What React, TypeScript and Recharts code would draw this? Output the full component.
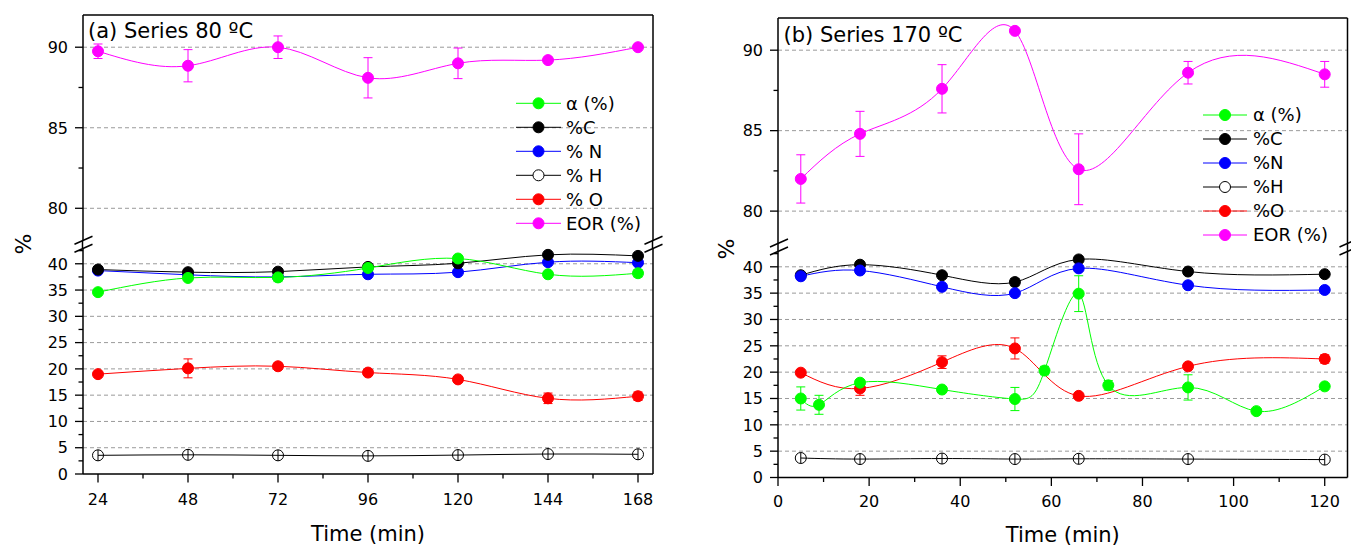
import React from 'react';
import { LineChart, Line, XAxis, YAxis, ErrorBar, ReferenceLine } from 'recharts';

const FONT = '"DejaVu Sans", Arial, sans-serif';

// ---- panel (a): Series 80 ºC ----
const timeA = [24, 48, 72, 96, 120, 144, 168];
const alphaA = [34.6, 37.3, 37.4, 39.2, 41.0, 38.0, 38.2];
const alphaErrA = [0, 0.4, 0.8, 0, 0, 0, 0.7];
const carbonA = [38.9, 38.4, 38.5, 39.4, 40.1, 41.7, 41.5];
const nitrogenA = [38.7, 37.9, 37.5, 38.0, 38.4, 40.3, 40.2];
const hydrogenA = [3.55, 3.65, 3.55, 3.45, 3.6, 3.8, 3.75];
const oxygenA = [19.0, 20.1, 20.5, 19.3, 18.0, 14.4, 14.8];
const oxygenErrA = [0, 1.8, 0.6, 0, 0, 1.0, 0.8];
const eorA = [89.75, 88.85, 90.0, 88.1, 89.0, 89.2, 90.0];
const eorErrA = [0.45, 1.0, 0.7, 1.25, 0.95, 0, 0];

// ---- panel (b): Series 170 ºC ----
const timeB = [5, 18, 36, 52, 66, 90, 120];
const alphaTimeB = [5, 9, 18, 36, 52, 58.5, 66, 72.5, 90, 105, 120];
const alphaB = [15.0, 13.8, 18.0, 16.7, 14.9, 20.3, 34.9, 17.5, 17.1, 12.6, 17.3];
const alphaErrB = [2.2, 1.8, 0.6, 0, 2.2, 0.8, 3.4, 0.9, 2.4, 0, 0];
const carbonB = [38.4, 40.4, 38.4, 37.1, 41.4, 39.1, 38.6];
const carbonErrB = [0, 0, 0, 0.7, 0, 0, 0];
const nitrogenB = [38.2, 39.3, 36.2, 35.0, 39.7, 36.5, 35.6];
const hydrogenB = [3.7, 3.5, 3.6, 3.5, 3.55, 3.5, 3.4];
const oxygenB = [19.9, 16.9, 21.9, 24.5, 15.5, 21.1, 22.5];
const oxygenErrB = [0, 1.3, 1.2, 2.0, 0, 0, 0.8];
const eorB = [82.0, 84.8, 87.6, 91.2, 82.6, 88.6, 88.5];
const eorErrB = [1.5, 1.4, 1.5, 0, 2.2, 0.7, 0.8];

// ---- axes ----
const xMajorA = [24, 48, 72, 96, 120, 144, 168];
const xMinorA = [36, 60, 84, 108, 132, 156];
const xMajorB = [0, 20, 40, 60, 80, 100, 120];
const xMinorB = [10, 30, 50, 70, 90, 110];
const yMajorLow = [0, 5, 10, 15, 20, 25, 30, 35, 40];
const yMinorLow = [2.5, 7.5, 12.5, 17.5, 22.5, 27.5, 32.5, 37.5, 42.5];
const yMajorUp = [80, 85, 90];
const yMinorUp = [82.5, 87.5];

const legendA = ['α (%)', '%C', '% N', '% H', '% O', 'EOR (%)'];
const legendB = ['α (%)', '%C', '%N', '%H', '%O', 'EOR (%)'];

const COLORS = ['#00ff00', '#000000', '#0000ff', '#000000', '#ff0000', '#ff00ff'];

type Row = { x: number; y: number; e: number };
const rows = (xs: number[], ys: number[], es?: number[]): Row[] =>
  xs.map((x, i) => ({ x, y: ys[i], e: es ? es[i] : 0 }));

const sorted = (a: number[], b: number[]) => [...a, ...b].sort((p, q) => p - q);

const yTick = (majors: number[]) => (p: any) => {
  const v = p.payload.value;
  const major = majors.includes(v);
  return (
    <g>
      <line x1={p.x - (major ? 8 : 4.5)} x2={p.x} y1={p.y} y2={p.y} stroke="#000" strokeWidth={1.3} />
      {major && (
        <text x={p.x - 15} y={p.y} dy="0.36em" textAnchor="end" fontSize={16} fontFamily={FONT} fill="#000">
          {v}
        </text>
      )}
    </g>
  );
};

const xTick = (majors: number[], labelDy: number) => (p: any) => {
  const v = p.payload.value;
  const major = majors.includes(v);
  return (
    <g>
      <line x1={p.x} x2={p.x} y1={p.y} y2={p.y + (major ? 8.5 : 4.5)} stroke="#000" strokeWidth={1.3} />
      {major && (
        <text x={p.x} y={p.y + labelDy} textAnchor="middle" fontSize={16} fontFamily={FONT} fill="#000">
          {v}
        </text>
      )}
    </g>
  );
};

const HollowDot = (p: any) => {
  if (p.cx == null || p.cy == null) return <g key={`h-${p.index}`} />;
  return (
    <g key={`h-${p.index}`}>
      <circle cx={p.cx} cy={p.cy} r={5.5} fill="none" stroke="#000" strokeWidth={1} />
      <line x1={p.cx} x2={p.cx} y1={p.cy - 5.5} y2={p.cy + 5.5} stroke="#000" strokeWidth={1} />
    </g>
  );
};

type Series = { data: Row[]; color: string; hollow?: boolean };

const renderSeries = (list: Series[]) =>
  list.map((s, i) => (
    <Line
      key={i}
      data={s.data}
      dataKey="y"
      type="natural"
      stroke={s.color}
      strokeWidth={1}
      dot={s.hollow ? HollowDot : { r: 5.5, fill: s.color, stroke: s.color, strokeWidth: 1 }}
      activeDot={false}
      isAnimationActive={false}
    >
      {!s.hollow && <ErrorBar dataKey="e" width={4.5} stroke={s.color} strokeWidth={1} direction="y" />}
    </Line>
  ));

type Geo = {
  left: number;
  right: number;
  upTop: number;
  upBot: number;
  lowTop: number;
  lowBot: number;
  xDomain: [number, number];
  xMajor: number[];
  xMinor: number[];
  xLabelOffset: number;
  xTickDy: number;
  marginRight: number;
};

const YW = 60;
const MT = 10;
const XH_TOTAL = 549;

function Panel({ g, upper, lower }: { g: Geo; upper: Series[]; lower: Series[] }) {
  const plotW = g.right - g.left;
  const axisStyle = { stroke: '#000', strokeWidth: 1.5 };
  const upH = g.upBot - g.upTop;
  const lowH = g.lowBot - g.lowTop;
  const xh = XH_TOTAL - g.lowBot;
  return (
    <>
      <div style={{ position: 'absolute', left: g.left - YW, top: g.upTop - MT }}>
        <LineChart width={YW + plotW + g.marginRight} height={MT + upH} margin={{ top: MT, right: g.marginRight, bottom: 0, left: 0 }}>
          <XAxis type="number" dataKey="x" domain={g.xDomain} hide allowDataOverflow />
          <YAxis
            type="number"
            domain={[78, 92]}
            ticks={sorted(yMajorUp, yMinorUp)}
            interval={0}
            tickSize={0}
            tickMargin={0}
            tickLine={false}
            tick={yTick(yMajorUp)}
            width={YW}
            axisLine={axisStyle}
            allowDataOverflow
          />
          {yMajorUp.map((v) => (
            <ReferenceLine key={v} y={v} stroke="#9a9a9a" strokeDasharray="4 3" strokeWidth={1} />
          ))}
          <ReferenceLine y={92} stroke="#000" strokeWidth={1.5} />
          <ReferenceLine x={g.xDomain[1]} stroke="#000" strokeWidth={1.5} />
          {renderSeries(upper)}
        </LineChart>
      </div>
      <div style={{ position: 'absolute', left: g.left - YW, top: g.lowTop - MT }}>
        <LineChart width={YW + plotW + g.marginRight} height={MT + lowH + xh} margin={{ top: MT, right: g.marginRight, bottom: 0, left: 0 }}>
          <XAxis
            type="number"
            dataKey="x"
            domain={g.xDomain}
            ticks={sorted(g.xMajor, g.xMinor)}
            interval={0}
            tickSize={0}
            tickMargin={0}
            tickLine={false}
            tick={xTick(g.xMajor, g.xTickDy)}
            height={xh}
            axisLine={axisStyle}
            allowDataOverflow
            label={{ value: 'Time (min)', position: 'insideBottom', offset: g.xLabelOffset, fontSize: 21, fontFamily: FONT, fill: '#000' }}
          />
          <YAxis
            type="number"
            domain={[0, 43]}
            ticks={sorted(yMajorLow, yMinorLow)}
            interval={0}
            tickSize={0}
            tickMargin={0}
            tickLine={false}
            tick={yTick(yMajorLow)}
            width={YW}
            axisLine={axisStyle}
            allowDataOverflow
          />
          {yMajorLow.slice(1).map((v) => (
            <ReferenceLine key={v} y={v} stroke="#9a9a9a" strokeDasharray="4 3" strokeWidth={1} />
          ))}
          <ReferenceLine x={g.xDomain[1]} stroke="#000" strokeWidth={1.5} />
          {renderSeries(lower)}
        </LineChart>
      </div>
    </>
  );
}

const GA: Geo = {
  left: 82.5, right: 652.5, upTop: 15, upBot: 240.5, lowTop: 248, lowBot: 474,
  xDomain: [20, 172], xMajor: xMajorA, xMinor: xMinorA, xLabelOffset: 8, xTickDy: 30.5, marginRight: 10,
};
const GB: Geo = {
  left: 778, right: 1347.5, upTop: 17.7, upBot: 243, lowTop: 251, lowBot: 477.5,
  xDomain: [0, 125], xMajor: xMajorB, xMinor: xMinorB, xLabelOffset: 7, xTickDy: 29.5, marginRight: 3,
};

function Breaks({ g }: { g: Geo }) {
  const mid = (g.upBot + g.lowTop) / 2;
  const slash = (x: number, yc: number, k: string) => (
    <line key={k} x1={x - 9} y1={yc + 4} x2={x + 9} y2={yc - 4} stroke="#000" strokeWidth={1.4} />
  );
  return (
    <g>
      <line x1={g.left} x2={g.left} y1={g.upBot} y2={g.lowTop} stroke="#000" strokeWidth={1.5} />
      <line x1={g.right} x2={g.right} y1={g.upBot} y2={g.lowTop} stroke="#000" strokeWidth={1.5} />
      {slash(g.left + 1, mid - 4, 'l1')}
      {slash(g.left + 1, mid + 4, 'l2')}
      {slash(g.right + 1, mid - 4, 'r1')}
      {slash(g.right + 1, mid + 4, 'r2')}
    </g>
  );
}

function LegendBox({ labels, x1, x2, tx, y0 }: { labels: string[]; x1: number; x2: number; tx: number; y0: number }) {
  const mx = (x1 + x2) / 2;
  return (
    <g>
      {labels.map((t, i) => {
        const y = y0 + i * 24;
        const c = COLORS[i];
        return (
          <g key={t + i}>
            <line x1={x1} x2={x2} y1={y} y2={y} stroke={c} strokeWidth={1} />
            <circle cx={mx} cy={y} r={5.5} fill={i === 3 ? '#fff' : c} stroke={c} strokeWidth={1} />
            <text x={tx} y={y} dy="0.36em" fontSize={18} fontFamily={FONT} fill="#000">
              {t}
            </text>
          </g>
        );
      })}
    </g>
  );
}

export default function App() {
  const upperA: Series[] = [{ data: rows(timeA, eorA, eorErrA), color: COLORS[5] }];
  const lowerA: Series[] = [
    { data: rows(timeA, hydrogenA), color: COLORS[3], hollow: true },
    { data: rows(timeA, oxygenA, oxygenErrA), color: COLORS[4] },
    { data: rows(timeA, nitrogenA), color: COLORS[2] },
    { data: rows(timeA, carbonA), color: COLORS[1] },
    { data: rows(timeA, alphaA, alphaErrA), color: COLORS[0] },
  ];
  const upperB: Series[] = [{ data: rows(timeB, eorB, eorErrB), color: COLORS[5] }];
  const lowerB: Series[] = [
    { data: rows(timeB, hydrogenB), color: COLORS[3], hollow: true },
    { data: rows(timeB, carbonB, carbonErrB), color: COLORS[1] },
    { data: rows(timeB, nitrogenB), color: COLORS[2] },
    { data: rows(timeB, oxygenB, oxygenErrB), color: COLORS[4] },
    { data: rows(alphaTimeB, alphaB, alphaErrB), color: COLORS[0] },
  ];

  return (
    <div style={{ position: 'absolute', left: 0, top: 0, width: 1351, height: 549, overflow: 'hidden', background: '#fff' }}>
      <Panel g={GA} upper={upperA} lower={lowerA} />
      <Panel g={GB} upper={upperB} lower={lowerB} />
      <svg width={1351} height={549} style={{ position: 'absolute', left: 0, top: 0, pointerEvents: 'none' }}>
        <Breaks g={GA} />
        <Breaks g={GB} />
        <text x={88} y={37.5} fontSize={21} fontFamily={FONT} fill="#000">(a) Series 80 ºC</text>
        <text x={783.5} y={41.5} fontSize={21} fontFamily={FONT} fill="#000">(b) Series 170 ºC</text>
        <text x={23} y={244} fontSize={22} fontFamily={FONT} fill="#000" textAnchor="middle" dominantBaseline="central" transform="rotate(-90 23 244)">%</text>
        <text x={726} y={249} fontSize={22} fontFamily={FONT} fill="#000" textAnchor="middle" dominantBaseline="central" transform="rotate(-90 726 249)">%</text>
        <LegendBox labels={legendA} x1={516} x2={561} tx={566} y0={103.3} />
        <LegendBox labels={legendB} x1={1203} x2={1247} tx={1253} y0={115} />
      </svg>
    </div>
  );
}
